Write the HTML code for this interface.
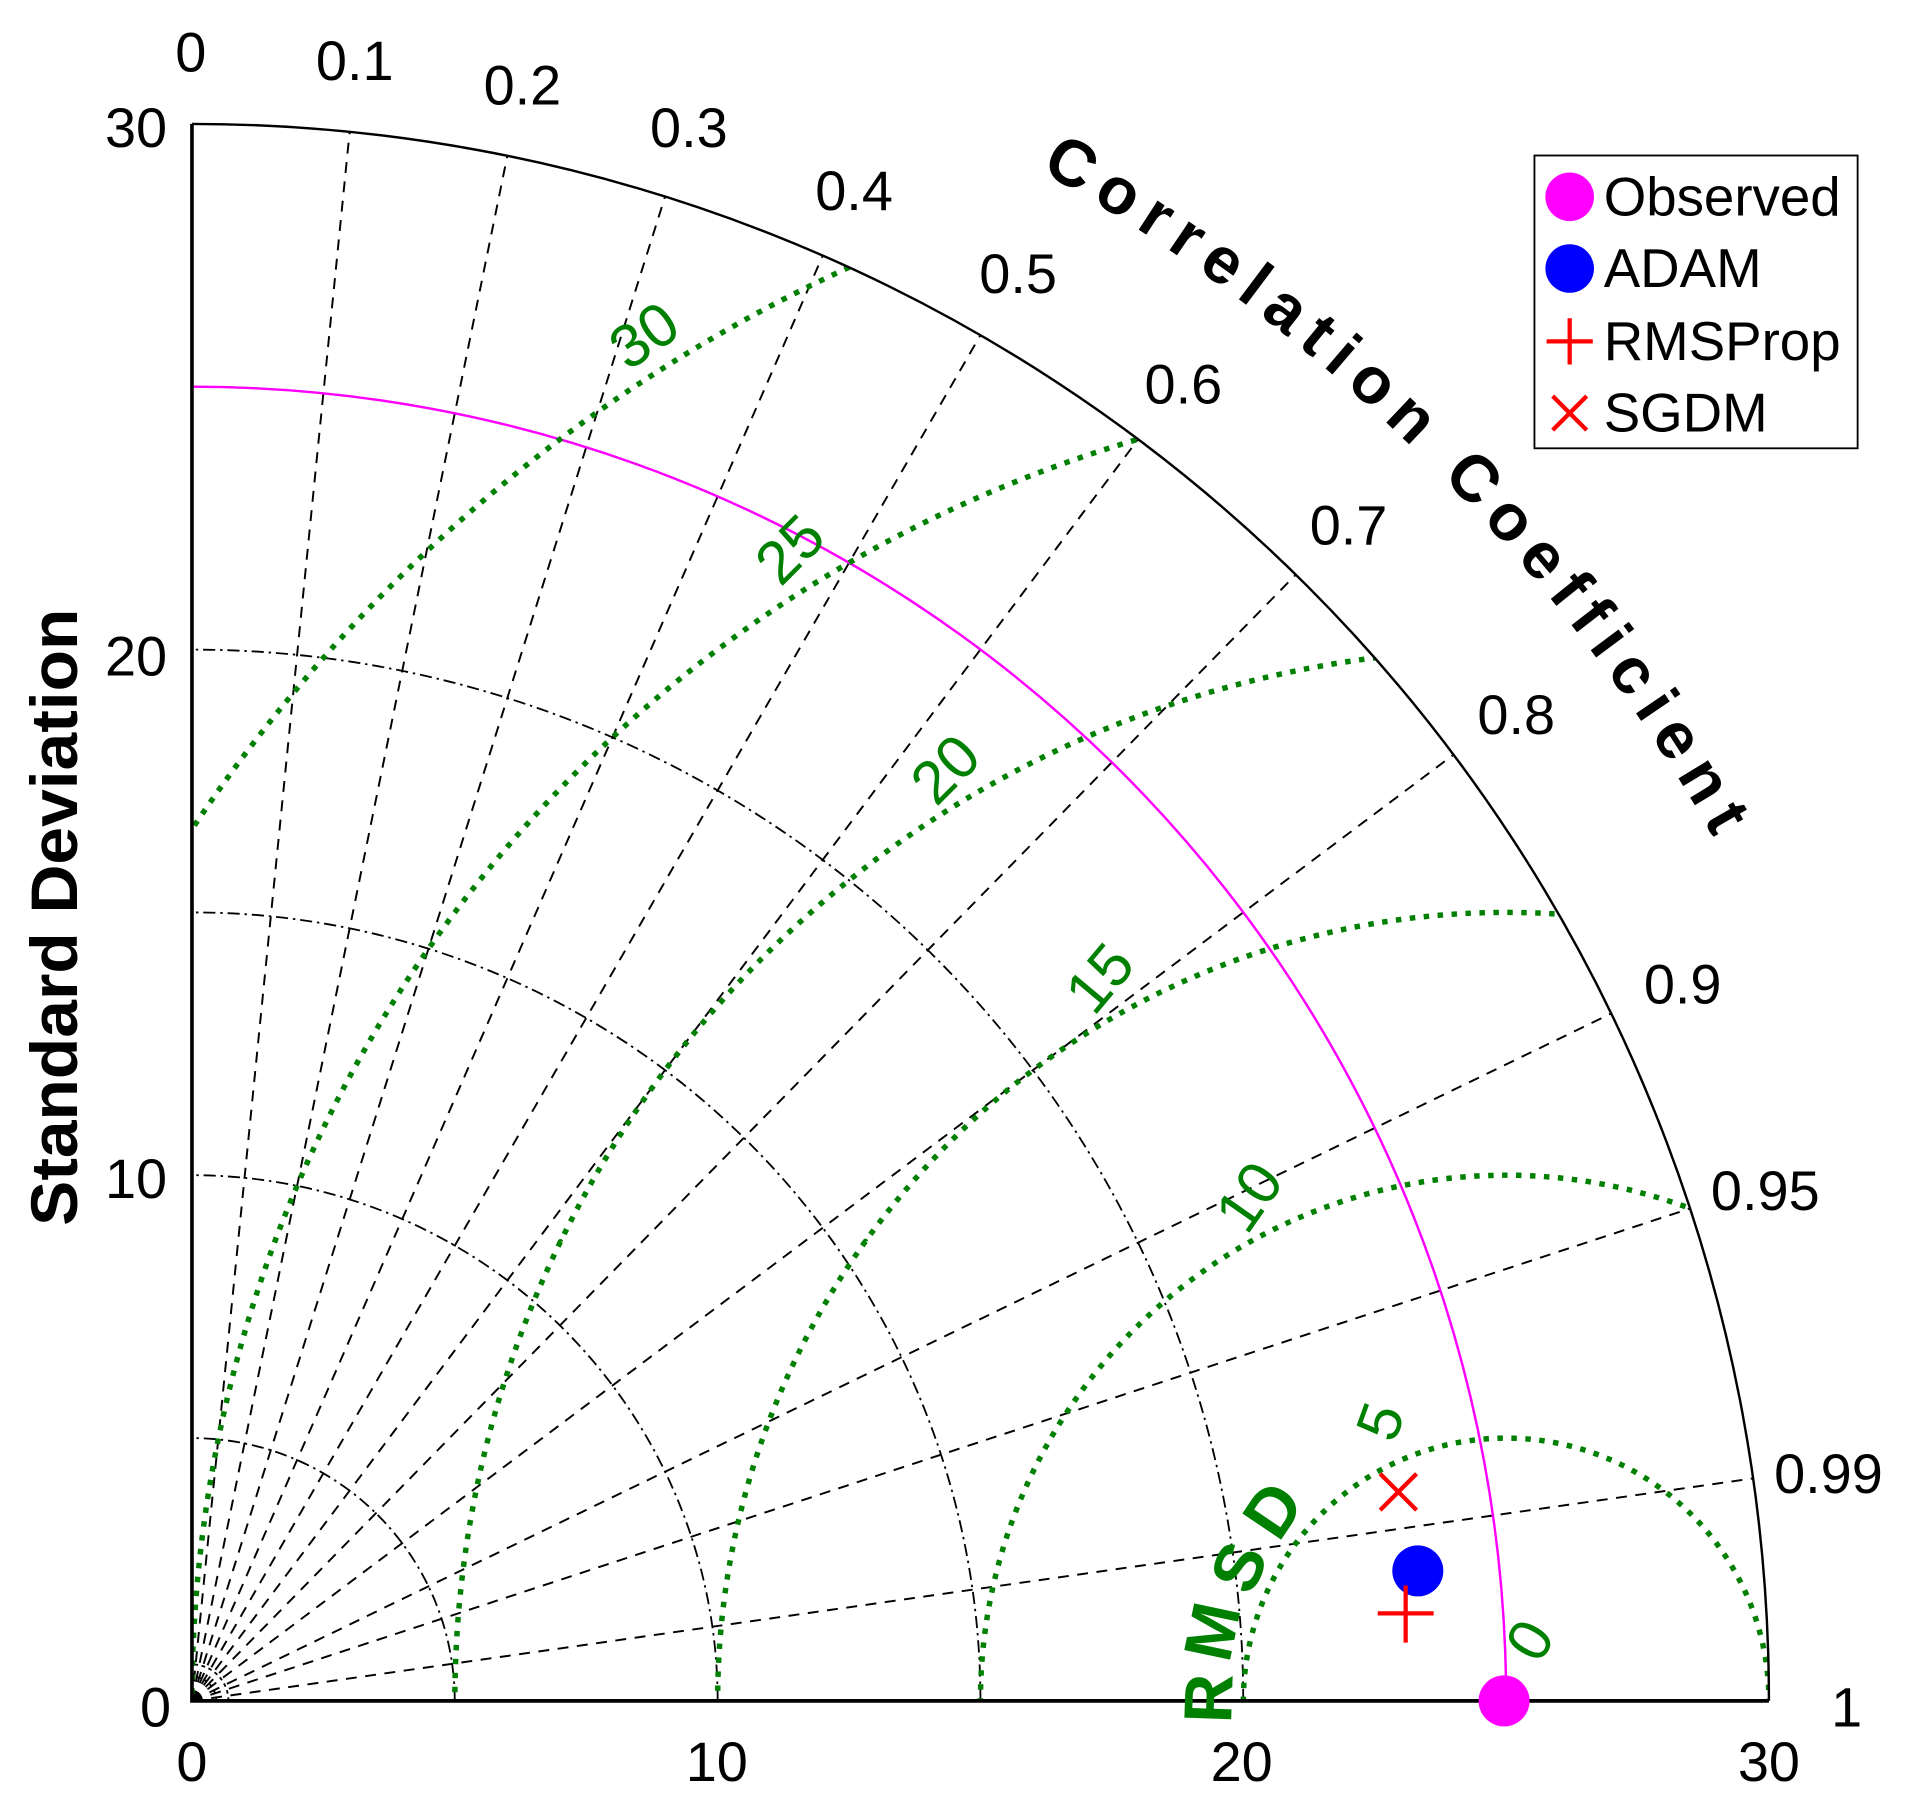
<!DOCTYPE html>
<html><head><meta charset="utf-8"><style>html,body{margin:0;padding:0;background:#fff;overflow:hidden;width:1905px;height:1818px}svg{display:block}</style></head>
<body>
<svg width="1905" height="1818" viewBox="0 0 1568 1496.4" preserveAspectRatio="none" xmlns="http://www.w3.org/2000/svg" font-family="Liberation Sans, Arial, sans-serif">
<defs>
<clipPath id="q"><path d="M158 1400 L1456 1400 A1298 1298 0 0 0 158 102 Z"/></clipPath>
<path id="cc" d="M856 140.6 A1440 1440 0 0 1 1417.4 701.9" fill="none"/>
</defs>
<g stroke="#000" stroke-width="1.6" stroke-dasharray="9 7" fill="none">
<path d="M158 1400L287.8 108.5M158 1400L417.6 128.2M158 1400L547.4 161.8M158 1400L677.2 210.4M158 1400L807 275.9M158 1400L936.8 361.6M158 1400L1066.6 473M158 1400L1196.4 621.2M158 1400L1326.2 834.2M158 1400L1391.1 994.7M158 1400L1443 1216.9"/>
</g>
<g stroke="#000" stroke-width="1.5" stroke-dasharray="10 4 2 4" fill="none">
<path d="M374.3 1400A216.3 216.3 0 0 0 158 1183.7"/>
<path d="M590.7 1400A432.7 432.7 0 0 0 158 967.3"/>
<path d="M807 1400A649 649 0 0 0 158 751"/>
<path d="M1023.3 1400A865.3 865.3 0 0 0 158 534.7"/>
<path d="M1239.7 1400A1081.7 1081.7 0 0 0 158 318.3"/>
</g>
<path d="M1239.7 1400A1081.7 1081.7 0 0 0 158 318.3" stroke="#ff00ff" stroke-width="2" fill="none"/>
<g stroke="#000" stroke-width="1.5" stroke-dasharray="3 3" fill="none">
<path d="M188 1400A30 30 0 0 0 158 1370"/>
<path d="M178 1400A20 20 0 0 0 158 1380"/>
</g>
<g clip-path="url(#q)" stroke="#008000" stroke-width="4.5" stroke-dasharray="4.5 7" fill="none">
<circle cx="1239.7" cy="1400" r="216.3"/>
<circle cx="1239.7" cy="1400" r="432.7"/>
<circle cx="1239.7" cy="1400" r="649"/>
<circle cx="1239.7" cy="1400" r="865.3"/>
<circle cx="1239.7" cy="1400" r="1081.7"/>
<circle cx="1239.7" cy="1400" r="1298"/>
</g>
<path d="M158 102 L158 1400 L1456 1400" stroke="#000" stroke-width="3" fill="none"/>
<path d="M1456 1400A1298 1298 0 0 0 158 102" stroke="#000" stroke-width="2" fill="none"/>
<g fill="#008000" font-size="50" text-anchor="middle" dominant-baseline="central">
<text transform="translate(530,276) rotate(-35)">30</text>
<text transform="translate(650,452) rotate(-45)">25</text>
<text transform="translate(778,633) rotate(-45)">20</text>
<text transform="translate(905,805) rotate(-50)">15</text>
<text transform="translate(1028,985) rotate(-55)">10</text>
<text transform="translate(1136,1170) rotate(-70)">5</text>
<text transform="translate(1259,1350) rotate(-60)">0</text>
</g>
<g fill="#008000" font-size="56" font-weight="bold" text-anchor="middle" dominant-baseline="central">
<text transform="translate(995,1398) rotate(-88)">R</text>
<text transform="translate(998,1343) rotate(-78)">M</text>
<text transform="translate(1020,1290) rotate(-66)">S</text>
<text transform="translate(1048,1243) rotate(-56)">D</text>
</g>
<g font-size="46" text-anchor="middle" dominant-baseline="central" fill="#000">
<text x="157" y="43">0</text>
<text x="292" y="50">0.1</text>
<text x="430" y="70">0.2</text>
<text x="567" y="105">0.3</text>
<text x="703" y="157">0.4</text>
<text x="838" y="225">0.5</text>
<text x="974" y="316">0.6</text>
<text x="1110" y="432">0.7</text>
<text x="1248" y="588">0.8</text>
<text x="1385" y="810">0.9</text>
<text x="1453" y="980">0.95</text>
<text x="1505" y="1213">0.99</text>
<text x="1520" y="1405">1</text>
</g>
<text font-size="54" font-weight="bold" fill="#000"><textPath href="#cc" textLength="790" lengthAdjust="spacing">Correlation Coefficient</textPath></text>
<g font-size="46" text-anchor="middle" dominant-baseline="central" fill="#000">
<text x="112" y="105">30</text>
<text x="112" y="540">20</text>
<text x="112" y="970">10</text>
<text x="128" y="1405">0</text>
<text x="158" y="1450">0</text>
<text x="590" y="1450">10</text>
<text x="1022" y="1450">20</text>
<text x="1456" y="1450">30</text>
</g>
<text transform="translate(45,755) rotate(-90)" font-size="54" font-weight="bold" text-anchor="middle" dominant-baseline="central" textLength="508" lengthAdjust="spacingAndGlyphs">Standard Deviation</text>
<circle cx="1238" cy="1400" r="21" fill="#ff00ff"/>
<circle cx="1167" cy="1293" r="21" fill="#0000ff"/>
<path d="M1134 1328H1180M1157 1305V1352" stroke="#f00" stroke-width="3.5"/>
<path d="M1136 1213L1166 1243M1166 1213L1136 1243" stroke="#f00" stroke-width="3.5"/>
<rect x="1263" y="128" width="266" height="241" fill="#fff" stroke="#000" stroke-width="1.5"/>
<circle cx="1292" cy="162" r="20" fill="#ff00ff"/>
<circle cx="1292" cy="221" r="20" fill="#0000ff"/>
<path d="M1273 281H1311M1292 262V300" stroke="#f00" stroke-width="3.5"/>
<path d="M1278 326L1306 354M1306 326L1278 354" stroke="#f00" stroke-width="3.5"/>
<g font-size="45" dominant-baseline="central" fill="#000">
<text x="1320" y="162">Observed</text>
<text x="1320" y="221">ADAM</text>
<text x="1320" y="281">RMSProp</text>
<text x="1320" y="340">SGDM</text>
</g>
</svg>
</body></html>
